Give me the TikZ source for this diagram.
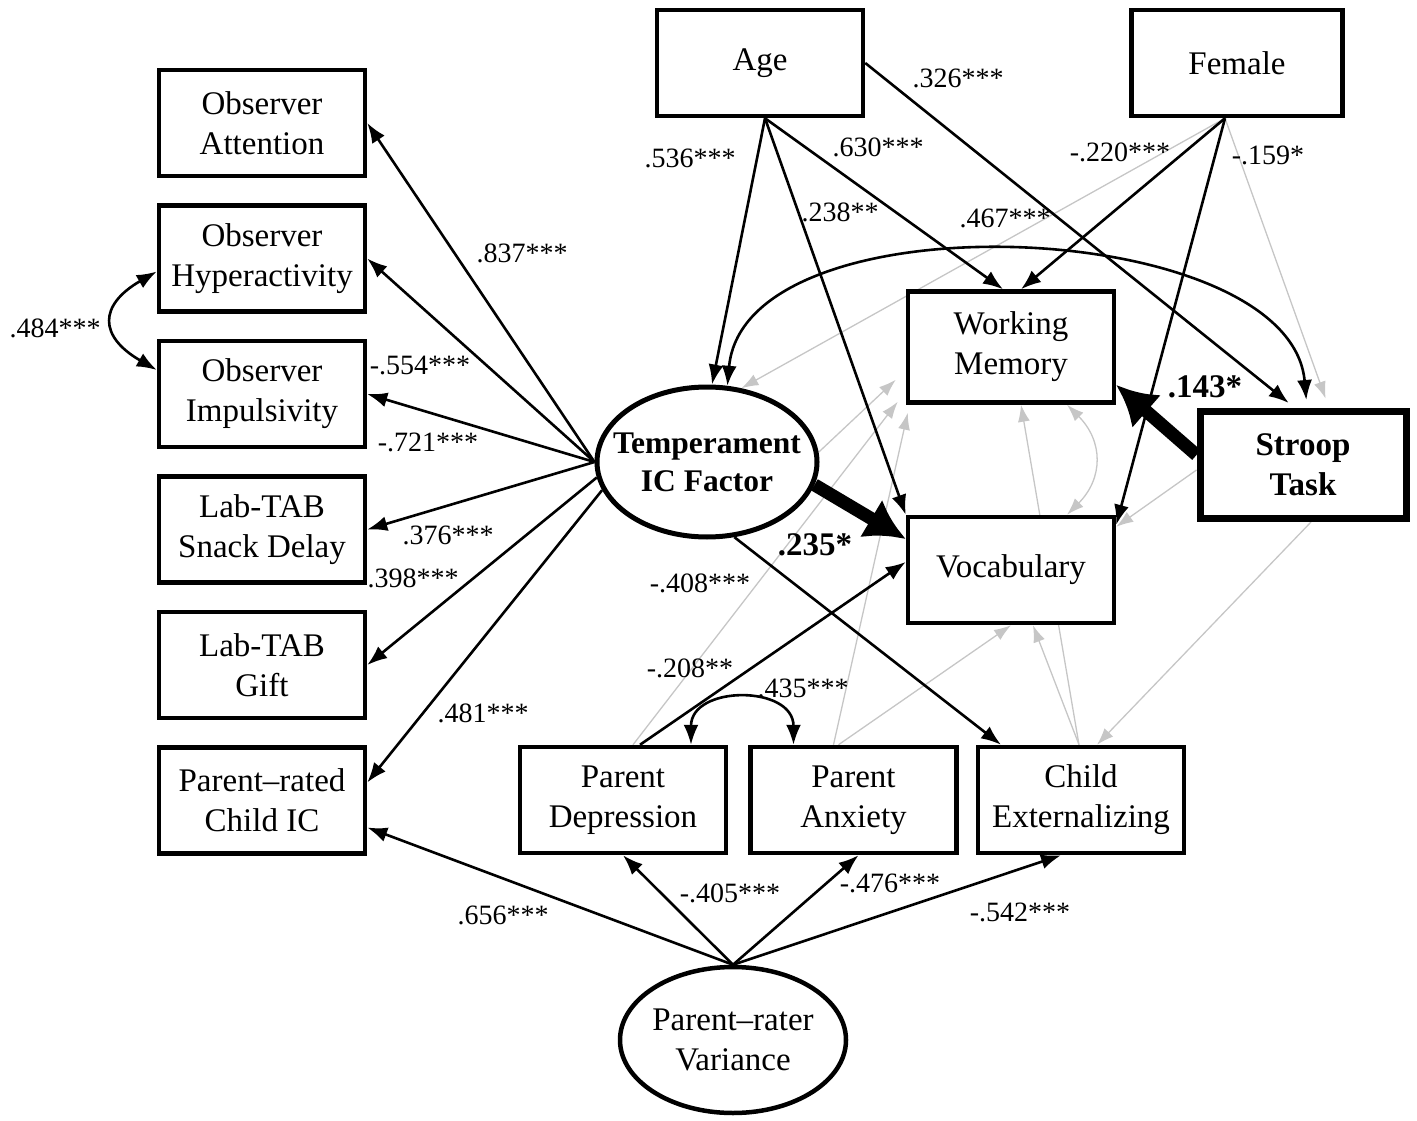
\documentclass[tikz,border=0pt]{standalone}
\usepackage{fontspec}
\setmainfont{Liberation Serif}
\usetikzlibrary{shapes.geometric}
\usetikzlibrary{positioning}
\usetikzlibrary{arrows.meta}
\usetikzlibrary{backgrounds}
\newcommand{\boxfont}{\fontsize{33}{40}\selectfont}
\newcommand{\latfont}{\fontsize{31.5}{38}\selectfont}
\newcommand{\estfont}{\fontsize{28}{32}\selectfont}

\begin{document}
\begin{tikzpicture}[x=1pt, y=1pt,
  var/.style={draw, fill=white, line width=4.5pt, minimum width=206pt, minimum height=106pt, inner sep=0pt, align=center, font=\boxfont},
  lat/.style={draw, fill=white, ellipse, line width=5pt, inner sep=0pt},
  coef/.style={line width=2.6pt, -{Latex[length=20pt,width=15pt]}},
  cov/.style={line width=2.6pt, {Latex[length=20pt,width=15pt]}-{Latex[length=20pt,width=15pt]}},
  nscoef/.style={line width=1.3pt, draw=gray!45, -{Latex[length=17pt,width=12pt]}},
  nscov/.style={line width=1.3pt, draw=gray!45, {Latex[length=17pt,width=12pt]}-{Latex[length=17pt,width=12pt]}},
  bigcoef/.style={line width=13pt, -{Latex[length=40pt,width=44pt]}},
  est/.style={font=\estfont, inner sep=1pt},
  bigest/.style={font=\boxfont\bfseries, inner sep=1pt},
]
\useasboundingbox (0,0) rectangle (1417,-1121);

\node[var] (obsatt) at (262,-123) {Observer\\Attention};
\node[var, below=25pt of obsatt] (obshyp) {Observer\\Hyperactivity};
\node[var, below=25pt of obshyp] (obsimp) {Observer\\Impulsivity};
\node[var, below=25pt of obsimp] (snack) {Lab-TAB\\Snack Delay};
\node[var, below=25pt of snack] (gift) {Lab-TAB\\Gift};
\node[var, below=25pt of gift] (prc) {Parent--rated\\Child IC};

\node[var] (age) at (760,-63) {Age};
\node[var, minimum width=211pt] (female) at (1237,-63) {Female};
\node[var, minimum height=111pt] (wm) at (1011,-347) {Working\\Memory};
\node[var, below=110pt of wm] (vocab) {Vocabulary};
\node[var, line width=7pt, minimum height=107pt, font=\boxfont\bfseries] (stroop) at (1303,-465) {Stroop\\Task};

\node[lat, minimum width=220pt, minimum height=150pt] (temp) at (707,-462) {};
\node[font=\latfont\bfseries, align=center] (templbl) at (temp.center) {Temperament\\IC Factor};

\node[var] (pd) at (623,-800) {Parent\\Depression};
\node[var, right=20pt of pd] (pa) {Parent\\Anxiety};
\node[var, right=17pt of pa] (ce) {Child\\Externalizing};

\node[lat, line width=4.5pt, minimum width=226pt, minimum height=146pt] (prv) at (733,-1040) {};
\node[font=\boxfont, align=center] (prvlbl) at (prv.center) {Parent--rater\\Variance};

\coordinate (ageout) at ([xshift=5pt]age.south);
\coordinate (femout) at ([xshift=-12pt]female.south);

\draw[coef] (temp.west) -- (obsatt.east);
\draw[coef] (temp.west) -- (obshyp.east);
\draw[coef] (temp.west) -- (obsimp.east);
\draw[coef] (temp.west) -- (snack.east);
\draw[coef] (temp.188) -- (gift.east);
\draw[coef] (temp.195) -- ([yshift=18pt]prc.east);
\draw[cov] ([yshift=-13pt]obshyp.west) to[out=210, in=150, looseness=1.75] ([yshift=24pt]obsimp.west);

\draw[coef] (ageout) -- ([xshift=5pt]temp.north);
\draw[coef] (ageout) -- (vocab.north west);
\draw[coef] (ageout) -- ([xshift=-8pt]wm.north);
\draw[coef, shorten >=8pt] (age.east) -- ([xshift=-8pt]stroop.north);
\draw[coef] (femout) -- ([xshift=10pt]wm.north);
\draw[coef] (femout) -- ([yshift=-10pt]vocab.north east);
\draw[cov, shorten >=8pt] (temp.75) to[out=85, in=95, looseness=0.85] ([xshift=4pt]stroop.north);

\draw[bigcoef] ([yshift=10pt]stroop.west) -- ([yshift=-38pt]wm.east);
\draw[bigcoef] (temp.-12) -- ([yshift=31pt]vocab.west);
\draw[coef] (temp.-70) -- ([xshift=-80pt]ce.north);
\draw[coef] ([xshift=17pt]pd.north) -- ([yshift=8pt]vocab.west);
\draw[cov] ([xshift=68pt]pd.north) to[out=90, in=90, looseness=1.5] ([xshift=-60pt]pa.north);

\draw[coef] (prv.north) -- ([yshift=-27pt]prc.east);
\draw[coef] (prv.north) -- (pd.south);
\draw[coef] (prv.north) -- ([xshift=5pt]pa.south);
\draw[coef] (prv.north) -- ([xshift=-20pt]ce.south);

\begin{pgfonlayer}{background}
\draw[nscoef] (femout) -- (temp.65);
\draw[nscoef, shorten >=10pt] (femout) -- ([xshift=26pt]stroop.north);
\draw[nscoef] (temp.5) -- ([xshift=-10pt,yshift=25pt]wm.south west);
\draw[nscoef] ([xshift=10pt]pd.north) -- ([xshift=-8pt,yshift=3pt]wm.south west);
\draw[nscoef] ([xshift=-20pt]pa.north) -- ([xshift=2pt,yshift=-8pt]wm.south west);
\draw[nscoef] ([xshift=-15pt]pa.north) -- (vocab.south);
\draw[nscoef] ([xshift=-2pt]ce.north) -- ([xshift=22pt]vocab.south);
\draw[nscoef] ([xshift=-2pt]ce.north) -- ([xshift=10pt]wm.south);
\draw[nscov] ([xshift=56pt]wm.south) to[out=-45, in=45, looseness=1.2] ([xshift=56pt]vocab.north);
\draw[nscoef] ([yshift=-5pt]stroop.west) -- ([yshift=-12pt]vocab.north east);
\draw[nscoef] ([xshift=8pt]stroop.south) -- ([xshift=16pt]ce.north);
\end{pgfonlayer}

\node[est] (e837) at (522,-253) {.837***};
\node[est] (e554) at (420,-365) {-.554***};
\node[est] (e721) at (428,-442) {-.721***};
\node[est] (e376) at (448,-535) {.376***};
\node[est] (e398) at (413,-578) {.398***};
\node[est] (e481) at (483,-713) {.481***};
\node[est] (e484) at (55,-328) {.484***};
\node[est] (e536) at (690,-158) {.536***};
\node[est] (e630) at (878,-147) {.630***};
\node[est] (e238) at (840,-212) {.238**};
\node[est] (e326) at (958,-78) {.326***};
\node[est] (e220) at (1120,-152) {-.220***};
\node[est] (e159) at (1268,-155) {-.159*};
\node[est] (e467) at (1005,-218) {.467***};
\node[bigest] (e143) at (1205,-387) {.143*};
\node[bigest] (e235) at (815,-545) {.235*};
\node[est] (e408) at (700,-583) {-.408***};
\node[est] (e208) at (690,-668) {-.208**};
\node[est] (e435) at (803,-688) {.435***};
\node[est] (e656) at (503,-915) {.656***};
\node[est] (e405) at (730,-893) {-.405***};
\node[est] (e476) at (890,-883) {-.476***};
\node[est] (e542) at (1020,-912) {-.542***};
\end{tikzpicture}
\end{document}
